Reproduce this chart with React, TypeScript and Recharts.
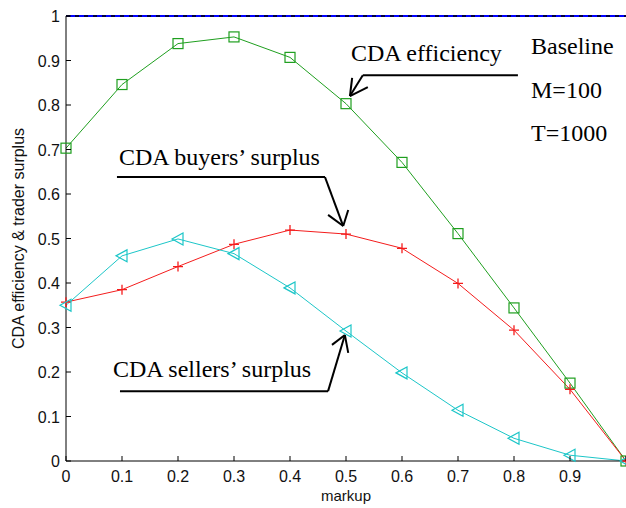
import { LineChart, Line, XAxis, YAxis, ReferenceLine, Label } from 'recharts';

// markup levels and the three measured curves
const markup = [0, 0.1, 0.2, 0.3, 0.4, 0.5, 0.6, 0.7, 0.8, 0.9, 1.0];
const efficiency = [0.703, 0.846, 0.938, 0.953, 0.907, 0.803, 0.671, 0.511, 0.344, 0.175, 0];
const buyersSurplus = [0.357, 0.385, 0.437, 0.487, 0.519, 0.51, 0.478, 0.399, 0.294, 0.161, 0];
const sellersSurplus = [0.35, 0.461, 0.499, 0.466, 0.389, 0.292, 0.198, 0.114, 0.051, 0.013, 0];
const yTicks = [0, 0.1, 0.2, 0.3, 0.4, 0.5, 0.6, 0.7, 0.8, 0.9, 1];

const data = markup.map((m, i) => ({
  markup: m,
  efficiency: efficiency[i],
  buyers: buyersSurplus[i],
  sellers: sellersSurplus[i],
}));

const GREEN = '#1f9f1f';
const RED = '#f41c1c';
const CYAN = '#1cc6c8';
const AXIS_FONT = "'Liberation Sans', Arial, sans-serif";
const SERIF = "'Liberation Serif', 'Times New Roman', serif";

const fmt = (v: number) => (v === 0 ? '0' : v === 1 ? '1' : v.toFixed(1));

const SquareDot = (p: any) => (
  <rect key={p.index} x={p.cx - 5} y={p.cy - 5} width={10} height={10} fill="none" stroke={GREEN} strokeWidth={1.2} />
);
const PlusDot = (p: any) => (
  <path key={p.index} d={`M${p.cx - 5},${p.cy}H${p.cx + 5}M${p.cx},${p.cy - 5}V${p.cy + 5}`} stroke={RED} strokeWidth={1.3} />
);
const TriDot = (p: any) => (
  <path key={p.index} d={`M${p.cx - 6},${p.cy}L${p.cx + 5},${p.cy - 6}L${p.cx + 5},${p.cy + 6}Z`} fill="none" stroke={CYAN} strokeWidth={1.2} />
);

const BottomTick = (p: any) => (
  <g>
    <line x1={p.x} x2={p.x} y1={p.y} y2={p.y - 5} stroke="#000" />
    {p.payload.value < 1 && (
      <text x={p.x} y={p.y + 21} textAnchor="middle" fontSize={16} fontFamily={AXIS_FONT} fill="#111">
        {fmt(p.payload.value)}
      </text>
    )}
  </g>
);
const LeftTick = (p: any) => (
  <g>
    <line x1={p.x} x2={p.x + 5} y1={p.y} y2={p.y} stroke="#000" />
    <text x={p.x - 6} y={p.y + 6} textAnchor="end" fontSize={16} fontFamily={AXIS_FONT} fill="#111">
      {fmt(p.payload.value)}
    </text>
  </g>
);
const TopTick = (p: any) => <line x1={p.x} x2={p.x} y1={p.y} y2={p.y + 5} stroke="#000" />;
const RightTick = (p: any) => <line x1={p.x} x2={p.x - 5} y1={p.y} y2={p.y} stroke="#000" />;

// callout arrows in data units: [x1, y1, x2, y2]
const callouts: number[][] = [
  [0.807, 0.867, 0.53, 0.867], [0.53, 0.867, 0.507, 0.82], [0.507, 0.82, 0.511, 0.861], [0.507, 0.82, 0.539, 0.84],
  [0.091, 0.638, 0.4625, 0.638], [0.4625, 0.638, 0.495, 0.528], [0.495, 0.528, 0.468, 0.553], [0.495, 0.528, 0.504, 0.564],
  [0.0964, 0.157, 0.468, 0.157], [0.468, 0.157, 0.498, 0.283], [0.498, 0.283, 0.475, 0.261], [0.498, 0.283, 0.504, 0.243],
];

const notes = [
  { text: 'CDA efficiency', x: 351, y: 61 },
  { text: 'Baseline', x: 531, y: 54 },
  { text: 'M=100', x: 531, y: 98 },
  { text: 'T=1000', x: 531, y: 141 },
  { text: 'CDA buyers\u2019 surplus', x: 119, y: 165 },
  { text: 'CDA sellers\u2019 surplus', x: 113, y: 377 },
];

export default function App() {
  return (
    <div style={{ position: 'absolute', left: 0, top: 0, width: 626, height: 508, background: '#fff' }}>
      <LineChart width={626} height={508} data={data} margin={{ top: 16, right: 0, bottom: 0, left: 0 }}>
        <XAxis
          dataKey="markup"
          type="number"
          domain={[0, 1]}
          ticks={markup}
          interval={0}
          height={47}
          tickSize={0}
          tickMargin={0}
          tick={<BottomTick />}
          axisLine={{ stroke: '#000' }}
        >
          <Label
            content={({ viewBox }: any) => (
              <text x={viewBox.x + viewBox.width / 2} y={501} textAnchor="middle" fontSize={15} fontFamily={AXIS_FONT} fill="#111">
                markup
              </text>
            )}
          />
        </XAxis>
        <XAxis xAxisId="top" orientation="top" dataKey="markup" type="number" domain={[0, 1]} ticks={markup} interval={0}
          height={0} tickSize={0} tickMargin={0} tick={<TopTick />} axisLine={false} />
        <YAxis
          type="number"
          domain={[0, 1]}
          ticks={yTicks}
          interval={0}
          width={66}
          tickSize={0}
          tickMargin={0}
          tick={<LeftTick />}
          axisLine={{ stroke: '#000' }}
        >
          <Label
            content={({ viewBox }: any) => {
              const cy = viewBox.y + viewBox.height / 2;
              return (
                <text x={18} y={cy} transform={`rotate(-90, 18, ${cy})`} textAnchor="middle" dominantBaseline="central"
                  fontSize={16} fontFamily={AXIS_FONT} fill="#111">
                  CDA efficiency &amp; trader surplus
                </text>
              );
            }}
          />
        </YAxis>
        <YAxis yAxisId="right" orientation="right" type="number" domain={[0, 1]} ticks={yTicks} interval={0}
          width={0} tickSize={0} tickMargin={0} tick={<RightTick />} axisLine={false} />
        <ReferenceLine y={1} stroke="#0000ff" strokeWidth={2} />
        <ReferenceLine y={1} stroke="#000" strokeWidth={1.5} strokeDasharray="4 5" />
        {callouts.map((c, i) => (
          <ReferenceLine key={i} segment={[{ x: c[0], y: c[1] }, { x: c[2], y: c[3] }]} stroke="#000" strokeWidth={2} />
        ))}
        <Line dataKey="efficiency" stroke={GREEN} strokeWidth={1} dot={SquareDot} isAnimationActive={false} />
        <Line dataKey="buyers" stroke={RED} strokeWidth={1} dot={PlusDot} isAnimationActive={false} />
        <Line dataKey="sellers" stroke={CYAN} strokeWidth={1} dot={TriDot} isAnimationActive={false} />
      </LineChart>
      <svg width={626} height={508} style={{ position: 'absolute', left: 0, top: 0, pointerEvents: 'none' }}>
        {notes.map((n) => (
          <text key={n.text} x={n.x} y={n.y} fontSize={24} fontFamily={SERIF} fill="#000">
            {n.text}
          </text>
        ))}
      </svg>
    </div>
  );
}
